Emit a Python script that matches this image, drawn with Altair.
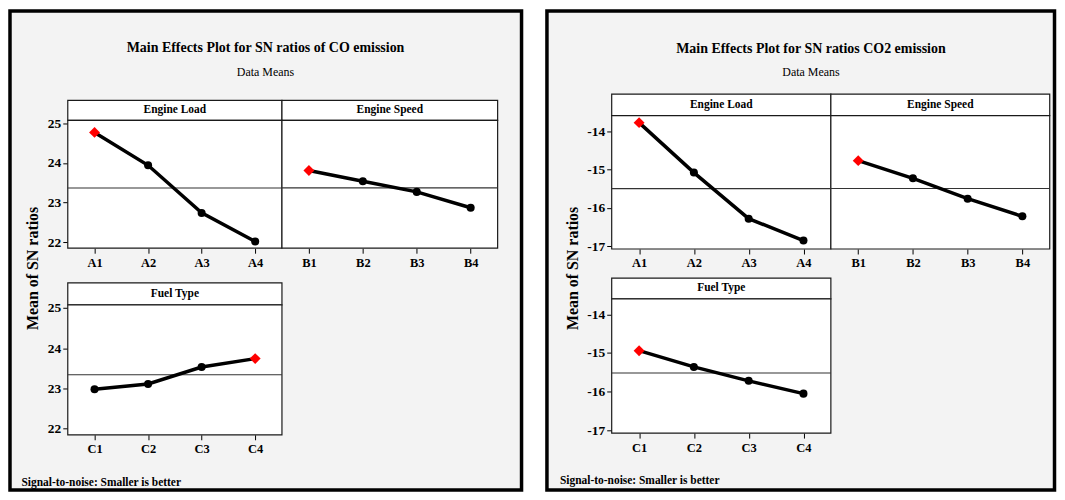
import altair as alt
import pandas as pd

# ---------------- data ----------------
levels_load = ["A1", "A2", "A3", "A4"]
levels_speed = ["B1", "B2", "B3", "B4"]
levels_fuel = ["C1", "C2", "C3", "C4"]

co_load = [24.77, 23.94, 22.74, 22.02]
co_speed = [23.81, 23.54, 23.27, 22.87]
co_fuel = [22.98, 23.11, 23.53, 23.74]

co2_load = [-13.78, -15.08, -16.28, -16.85]
co2_speed = [-14.77, -15.23, -15.76, -16.22]
co2_fuel = [-14.94, -15.36, -15.72, -16.05]

factor_names = ["Engine Load", "Engine Speed", "Fuel Type"]
co_ticks = [22, 23, 24, 25]
co2_ticks = [-17, -16, -15, -14]
co_domain = [21.85, 25.075]
co2_domain = [-17.07, -13.6]

titles = ["Main Effects Plot for SN ratios of CO emission",
          "Main Effects Plot for SN ratios CO2 emission"]
subtitle = "Data Means"
ytitle = "Mean of SN ratios"
footer = "Signal-to-noise: Smaller is better"

FONT = "Liberation Serif"
H = 481
dummy = pd.DataFrame({"k": [0]})


def rect(x0, x1, y0, y1):
    return alt.Chart(dummy).mark_rect(fill="white", stroke="#1a1a1a", strokeWidth=1.2).encode(
        x=alt.value(x0), x2=alt.value(x1), y=alt.value(y0), y2=alt.value(y1))


def text(s, px, py, size, bold=True, align="center", angle=0):
    kw = dict(text=s, font=FONT, fontSize=size, fontWeight="bold" if bold else "normal",
              color="#000", align=align, baseline="middle")
    if angle:
        kw["angle"] = angle
    return alt.Chart(dummy).mark_text(**kw).encode(x=alt.value(px), y=alt.value(py))


def panel(levels, values, x0, x1, ytop, ybot, domain, ticks, show_y):
    df = pd.DataFrame({"level": levels, "value": values})
    base = alt.Chart(df)
    xax = alt.Axis(orient="bottom", offset=ybot - H, domain=False, grid=False, tickSize=5,
                   tickColor="#000", labelAngle=0, labelFont=FONT, labelFontWeight="bold",
                   labelFontSize=12.5, labelColor="#000", labelPadding=3, title=None)
    x = alt.X("level:N", sort=levels,
              scale=alt.Scale(type="point", range=[x0, x1], padding=0.5), axis=xax)
    if show_y:
        yax = alt.Axis(orient="left", offset=-x0, domain=False, grid=False, values=ticks,
                       tickSize=5, tickColor="#000", labelFont=FONT, labelFontWeight="bold",
                       labelFontSize=13.5, labelColor="#000", labelPadding=2,
                       labelExpr="'' + datum.value", title=None)
    else:
        yax = None
    ysc = alt.Scale(domain=domain, range=[ybot, ytop], nice=False, zero=False)
    y = alt.Y("value:Q", scale=ysc, axis=yax)
    rule = base.mark_rule(color="#333", strokeWidth=1.2).encode(
        y=alt.Y("mean(value):Q", scale=ysc, axis=yax), x=alt.value(x0), x2=alt.value(x1))
    line = base.mark_line(color="#000", strokeWidth=3.5).encode(x=x, y=y)
    ranked = base.transform_joinaggregate(mx="max(value)")
    pts = ranked.transform_filter("datum.value != datum.mx").mark_point(
        filled=True, shape="circle", size=65, color="#000", opacity=1).encode(x=x, y=y)
    best = ranked.transform_filter("datum.value == datum.mx").mark_point(
        filled=True, shape="diamond", size=120, color="#ff0000", opacity=1).encode(x=x, y=y)
    return alt.layer(rule, line, pts, best)


def half(title, vals, fx, top, fuel, domain, ticks, tpos, ytx, foot, W):
    xa, xb, xc = fx
    ht, hb, pb = top
    fht, fhb, fpb = fuel
    layers = [
        rect(xa, xb, ht, hb), rect(xb, xc, ht, hb),
        rect(xa, xb, hb, pb), rect(xb, xc, hb, pb),
        rect(xa, xb, fht, fhb), rect(xa, xb, fhb, fpb),
        text(title, tpos[0], tpos[1], 14),
        text(subtitle, tpos[0], tpos[1] + 23.5, 12, bold=False),
        text(factor_names[0], (xa + xb) / 2, (ht + hb) / 2, 11.5),
        text(factor_names[1], (xb + xc) / 2, (ht + hb) / 2, 11.5),
        text(factor_names[2], (xa + xb) / 2, (fht + fhb) / 2, 11.5),
        text(ytitle, ytx, 258.5, 16, angle=270),
        text(footer, foot[0], foot[1], 11.5, align="left"),
        panel(levels_load, vals[0], xa, xb, hb, pb, domain, ticks, True),
        panel(levels_speed, vals[1], xb, xc, hb, pb, domain, ticks, False),
        panel(levels_fuel, vals[2], xa, xb, fhb, fpb, domain, ticks, True),
    ]
    return alt.layer(*layers).resolve_scale(x="independent", y="independent").properties(
        width=W, height=H)


left = half(titles[0], [co_load, co_speed, co_fuel], (58.0, 273.0, 489.5),
            (89.8, 109.8, 238.2), (273.0, 295.0, 425.5), co_domain, co_ticks,
            (256.5, 37.5), 23.5, (11.5, 473.5), 513.5)
right = half(titles[1], [co2_load, co2_speed, co2_fuel], (65.0, 285.0, 504.7),
             (83.5, 105.2, 239.0), (268.3, 289.0, 423.8), co2_domain, co2_ticks,
             (265.0, 38.3), 25.8, (13.0, 471.5), 509.5)

chart = alt.hconcat(left, right, spacing=21).properties(
    padding=0, background="white").configure_view(
    stroke="#000", strokeWidth=3.5, fill="#f3f3f3")

chart.save("out.html", embed_options={"renderer": "svg", "actions": False})
